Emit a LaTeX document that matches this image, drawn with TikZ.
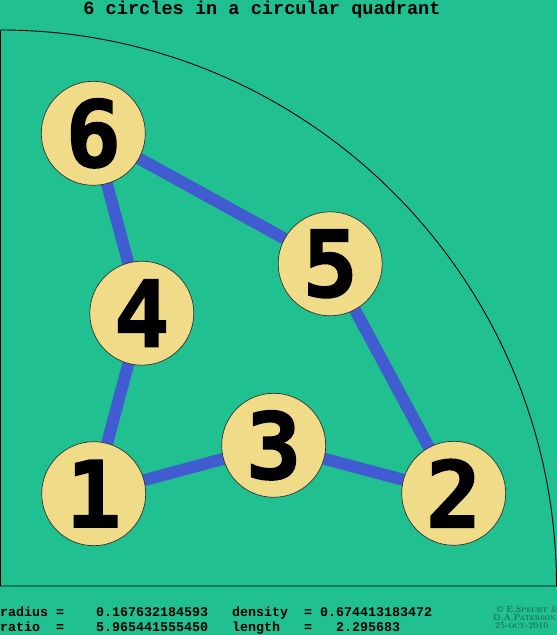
\documentclass[tikz,border=0pt]{standalone}
\usepackage{fontspec}
\newfontfamily\digitfont[FakeBold=1.6]{DejaVu Sans Mono}
\newfontfamily\monofont{Liberation Mono}
\definecolor{bggreen}{RGB}{33,192,144}
\definecolor{edgeblue}{RGB}{64,92,208}
\definecolor{discyellow}{RGB}{240,220,136}
\definecolor{copygreen}{RGB}{25,85,65}
\begin{document}
\begin{tikzpicture}[x=1pt,y=1pt,
  disc/.style={circle,draw=black!80,line width=0.7pt,fill=discyellow,minimum size=104pt,inner sep=0pt},
  digit/.style={inner sep=0pt,font=\digitfont\bfseries\fontsize{92}{92}\selectfont},
  link/.style={draw=edgeblue,line width=12pt},
  info/.style={inner sep=0pt,anchor=base west,font=\monofont\bfseries\fontsize{13.33}{14}\selectfont},
  copy/.style={inner sep=0pt,anchor=base west,text=copygreen,font=\fontsize{9}{10}\selectfont}]
\fill[bggreen] (0,0) rectangle (557,635);
\useasboundingbox (0,0) rectangle (557,635);
% quadrant
\draw[black,line width=0.9pt] (0.5,605) -- (0.5,49) -- (556.5,49) arc[start angle=0,end angle=90,radius=556];
% disc centres
\coordinate (p1) at (93.7,141.3);
\coordinate (p2) at (453.7,141.7);
\coordinate (p3) at (273.7,189.7);
\coordinate (p4) at (141.8,321.8);
\coordinate (p5) at (330.2,371.2);
\coordinate (p6) at (93.3,501.7);
% edges
\draw[link] (p6) -- (p4);
\draw[link] (p6) -- (p5);
\draw[link] (p4) -- (p1);
\draw[link] (p1) -- (p3);
\draw[link] (p3) -- (p2);
\draw[link] (p2) -- (p5);
\foreach \i in {1,...,6}{
  \node[disc] (c\i) at (p\i) {};
  \node[digit] (d\i) at (p\i) {\i};
}
% title
\node[inner sep=0pt,anchor=base,font=\monofont\bfseries\fontsize{18.6}{20}\selectfont] (title) at (262,620.5) {6 circles in a circular quadrant};
% info lines
\node[info] (r1a) at (0,18.5) {radius =};
\node[info] (r1b) at (96,18.5) {0.167632184593};
\node[info] (r1c) at (232,18.5) {density};
\node[info] (r1d) at (304,18.5) {= 0.674413183472};
\node[info] (r2a) at (0,3) {ratio};
\node[info] (r2e) at (56,3) {=};
\node[info] (r2b) at (96,3) {5.965441555450};
\node[info] (r2c) at (232,3) {length};
\node[info] (r2d) at (304,3) {=};
\node[info] (r2f) at (336,3) {2.295683};
% copyright
\node[copy] (cp1) at (497,23) {\textcopyright\ \textsc{E.Specht \&}};
\node[copy] (cp2) at (493,14.5) {\textsc{D.A.Paterson}};
\node[copy] (cp3) at (495,6.5) {\textsc{25-oct-2010}};
\end{tikzpicture}
\end{document}
